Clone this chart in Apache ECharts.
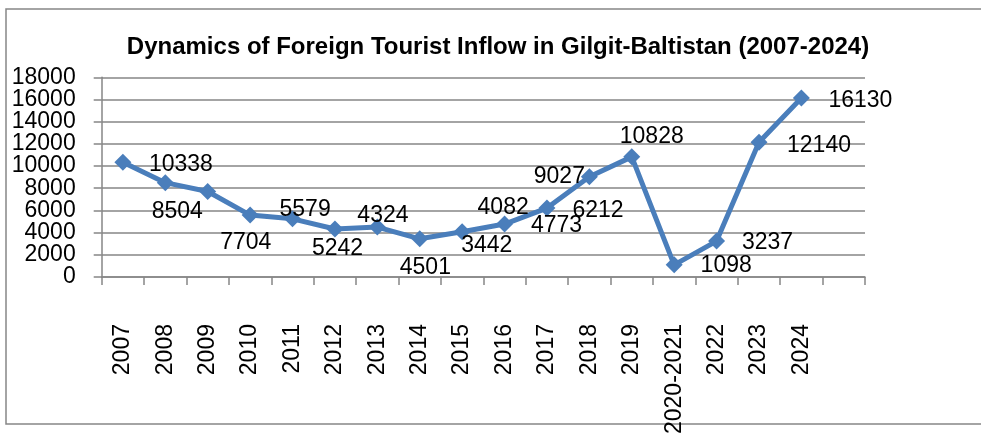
<!DOCTYPE html>
<html>
<head>
<meta charset="utf-8">
<script src="https://cdn.jsdelivr.net/npm/echarts@6/dist/echarts.min.js"></script>
<style>
html,body{margin:0;padding:0;background:#fff;}
#chart{width:981px;height:437px;}
</style>
</head>
<body>
<div id="chart"></div>
<script>
// Data
var categories = ['2007','2008','2009','2010','2011','2012','2013','2014','2015','2016','2017','2018','2019','2020-2021','2022','2023','2024',''];
var touristInflow = [10338, 8504, 7704, 5579, 5242, 4324, 4501, 3442, 4082, 4773, 6212, 9027, 10828, 1098, 3237, 12140, 16130];
var yTicks = [0, 2000, 4000, 6000, 8000, 10000, 12000, 14000, 16000, 18000];
var titleText = 'Dynamics of Foreign Tourist Inflow in Gilgit-Baltistan (2007-2024)';

// Label placement (layout only): offset of each data label centre from its point
var labelOffsets = [[58,2],[12,29],[38,51],[55,-5],[45,30],[48,-13],[48,41],[67,7],[41,-24],[52,2],[51,3],[-30,0],[20,-20],[52,1],[51,2],[60,3],[59,3]];

var chart = echarts.init(document.getElementById('chart'), null, {renderer:'canvas'});
var seriesData = touristInflow.map(function(v, i){
  return {value: v, label: {offset: labelOffsets[i]}};
});
var gray = '#868686';
var yMin = yTicks[0], yMax = yTicks[yTicks.length-1], yStep = yTicks[1]-yTicks[0];
function tickIndex(v){ return yTicks.indexOf(v); }
var yLabelBase = {margin:26, fontSize:23, color:'#000', fontFamily:'"Liberation Sans", Arial, sans-serif', showMinLabel:true, showMaxLabel:true};
chart.setOption({
  animation: false,
  backgroundColor: '#ffffff',
  grid: {left: 101.7, right: 116, top: 77.3, bottom: 156, containLabel: false},
  graphic: [
    {type:'rect', shape:{x:6, y:9, width:1000, height:415}, style:{fill:'none', stroke:gray, lineWidth:1.5}, silent:true},
    {type:'text', x:498, y:47, style:{text:titleText, textAlign:'center', textVerticalAlign:'middle', font:'bold 24px "Liberation Sans Narrow", "Liberation Sans", Arial, sans-serif', fill:'#000'}}
  ],
  xAxis: {
    type:'category', data: categories, boundaryGap: true,
    axisLine:{show:true, lineStyle:{color:gray, width:1.5}},
    axisTick:{show:true, length:8, alignWithLabel:false, interval:0, lineStyle:{color:gray, width:1.5}},
    axisLabel:{rotate:90, interval:0, margin:47, fontSize:23, color:'#000', fontFamily:'"Liberation Sans", Arial, sans-serif'},
    splitLine:{show:false}
  },
  yAxis: [{
    type:'value', min: yMin, max: yMax, interval: yStep, position:'left',
    axisLine:{show:true, lineStyle:{color:gray, width:1.5}},
    axisTick:{show:true, length:8, inside:false, lineStyle:{color:gray, width:1.5}},
    axisLabel:Object.assign({}, yLabelBase, {formatter:function(v){ return tickIndex(v) % 2 === 0 ? String(v) : ''; }}),
    splitLine:{show:true, lineStyle:{color:gray, width:1.5}}
  },{
    type:'value', min: yMin, max: yMax, interval: yStep, position:'left', offset:0,
    axisLine:{show:false}, axisTick:{show:false}, splitLine:{show:false},
    axisLabel:Object.assign({}, yLabelBase, {formatter:function(v){ return tickIndex(v) % 2 === 1 ? String(v) : ''; }})
  }],
  series: [{
    type:'line', data: seriesData, yAxisIndex:0,
    symbol:'diamond', symbolSize:17,
    lineStyle:{color:'#4A7EBB', width:5},
    itemStyle:{color:'#4A7EBB'},
    label:{show:true, position:'inside', align:'center', verticalAlign:'middle', fontSize:23, color:'#000', fontFamily:'"Liberation Sans", Arial, sans-serif'},
    z: 3
  }]
});
</script>
</body>
</html>
